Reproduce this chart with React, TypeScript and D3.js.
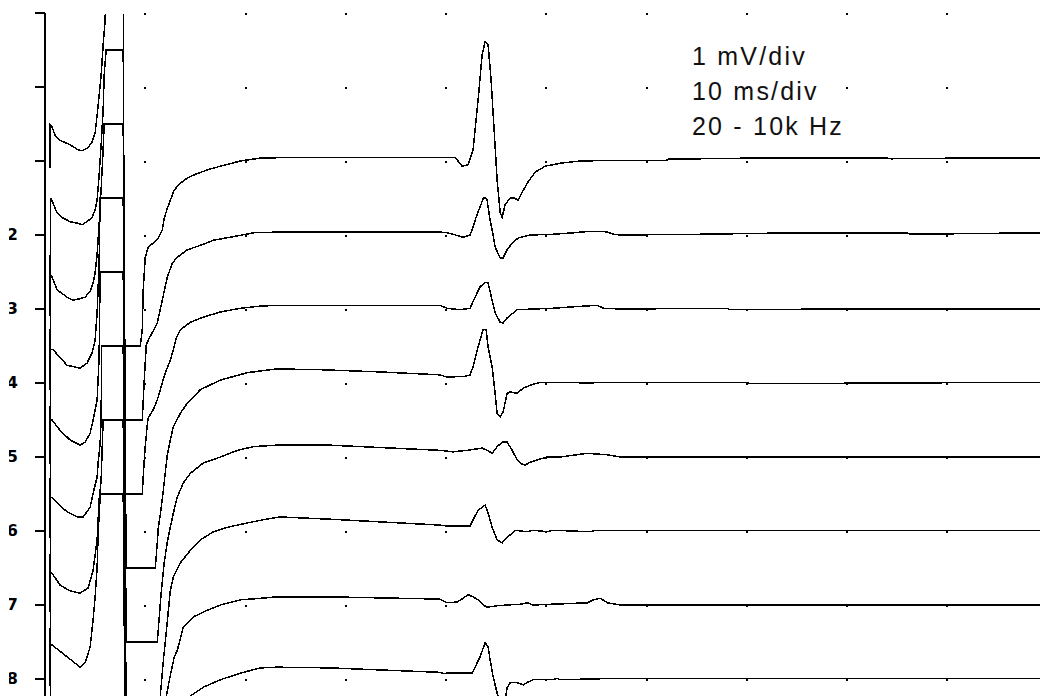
import React from "react";
import * as d3 from "d3";

// [time ms, amplitude mV]
type Pt = [number, number];

const ch1: Pt[] = [
  [0.5, -0.1], [0.5, 0.49], [0.7, 0.46], [1.0, 0.35], [1.5, 0.28], [2.5, 0.22], [3.3, 0.15], [3.7, 0.14],
  [4.3, 0.18], [4.7, 0.26], [5.0, 0.38], [5.2, 0.62], [5.4, 0.89], [5.6, 1.16], [5.8, 1.57], [6.0, 1.9],
  [6.1, 2.5], [7.8, 2.5], [7.9, -2.5], [9.5, -2.5], [9.7, -2.28], [9.8, -1.74], [10.0, -1.3], [10.3, -1.16],
  [10.8, -1.11], [11.3, -1.04], [11.7, -0.93], [11.9, -0.77], [12.2, -0.64], [12.5, -0.53], [12.9, -0.39],
  [13.5, -0.3], [14.2, -0.23], [15.0, -0.18], [16.2, -0.12], [17.5, -0.07], [19.5, 0], [21.5, 0.04],
  [25.4, 0.05], [39.4, 0.05], [40.9, 0.05], [41.6, -0.07], [42.2, -0.05], [42.7, 0.15], [43.2, 0.82],
  [43.6, 1.43], [43.9, 1.61], [44.2, 1.57], [44.5, 1.09], [44.8, 0.42], [45.1, -0.26], [45.4, -0.69],
  [45.6, -0.76], [45.9, -0.59], [46.4, -0.5], [46.8, -0.5], [47.2, -0.53], [47.6, -0.42], [48.2, -0.28],
  [48.9, -0.15], [49.9, -0.07], [51.4, -0.03], [53.4, 0], [57.4, 0.01], [62.0, 0.01], [62.3, 0.03],
  [65.3, 0.03], [71.0, 0.04], [75.3, 0.04], [84.0, 0.04], [84.4, 0.03], [92.0, 0.04], [99.3, 0.04],
];

const ch2: Pt[] = [
  [0.5, -1.1], [0.55, 0.5], [0.8, 0.43], [1.2, 0.3], [1.8, 0.23], [2.5, 0.18], [3.2, 0.16], [3.7, 0.14],
  [4.2, 0.18], [4.7, 0.24], [5.0, 0.34], [5.2, 0.47], [5.4, 0.81], [5.6, 1.22], [5.8, 1.69], [5.9, 2.16],
  [6.1, 2.5], [7.8, 2.5], [8.0, -2.5], [9.7, -2.5], [9.9, -1.96], [10.1, -1.49], [10.3, -1.42], [10.7, -1.32],
  [11.2, -1.19], [11.7, -0.88], [12.2, -0.57], [12.7, -0.38], [13.2, -0.3], [14.2, -0.2], [15.5, -0.14],
  [16.8, -0.07], [18.5, -0.03], [20.8, 0.03], [23.4, 0.04], [39.4, 0.04], [40.1, 0.03], [40.7, 0.01],
  [41.7, -0.03], [42.4, 0], [42.7, 0.11], [43.0, 0.24], [43.4, 0.38], [43.7, 0.49], [43.9, 0.51],
  [44.1, 0.47], [44.4, 0.2], [44.6, 0.07], [44.9, -0.16], [45.4, -0.31], [45.7, -0.31], [46.1, -0.2],
  [46.6, -0.11], [47.2, -0.04], [48.4, 0], [50.7, 0.01], [52.7, 0.03], [54.4, 0.05], [55.4, 0.05],
  [56.1, 0.04], [56.7, 0.01], [57.4, 0], [65.3, 0.01], [75.3, 0.03], [86.0, 0.03], [86.3, 0.01], [99.3, 0.03],
];

const ch3: Pt[] = [
  [0.5, -1.1], [0.55, 0.47], [0.7, 0.43], [1.2, 0.26], [2.2, 0.16], [2.8, 0.12], [3.5, 0.14], [4.0, 0.16],
  [4.5, 0.24], [4.8, 0.35], [5.0, 0.49], [5.2, 0.74], [5.4, 1.15], [5.6, 1.62], [5.8, 2.16], [5.9, 2.5],
  [7.8, 2.5], [8.0, -2.5], [9.7, -2.5], [9.9, -2.04], [10.0, -1.86], [10.2, -1.57], [10.3, -1.47],
  [10.8, -1.36], [11.2, -1.23], [11.7, -1.0], [12.0, -0.86], [12.5, -0.69], [12.8, -0.55], [13.1, -0.39],
  [13.5, -0.28], [14.5, -0.18], [15.8, -0.11], [17.5, -0.04], [19.5, 0.01], [21.5, 0.04], [23.4, 0.05],
  [39.4, 0.05], [40.1, 0.01], [41.4, -0.01], [42.4, 0.01], [42.9, 0.16], [43.4, 0.3], [43.9, 0.36],
  [44.2, 0.35], [44.6, 0.12], [44.9, -0.05], [45.4, -0.18], [45.7, -0.19], [46.1, -0.12], [47.1, -0.01],
  [48.7, 0], [50.7, 0.01], [52.7, 0.03], [55.1, 0.05], [55.7, 0.01], [57.4, 0], [68.0, 0.01], [68.3, -0.01],
  [79.0, 0], [99.3, 0],
];

const ch4: Pt[] = [
  [0.5, -1.1], [0.55, 0.45], [0.8, 0.45], [2.2, 0.24], [3.5, 0.2], [4.2, 0.27], [4.7, 0.41], [5.0, 0.58],
  [5.2, 0.95], [5.4, 1.62], [5.5, 2.5], [7.8, 2.5], [8.1, -2.5], [11.0, -2.5], [11.2, -2.16], [11.3, -1.96],
  [11.5, -1.78], [11.8, -1.45], [12.2, -0.97], [12.5, -0.77], [12.8, -0.59], [13.5, -0.41], [14.2, -0.27],
  [15.5, -0.09], [17.5, 0.04], [20.2, 0.14], [23.1, 0.19], [27.4, 0.18], [33.4, 0.15], [39.4, 0.11],
  [40.1, 0.08], [41.9, 0.09], [42.4, 0.11], [42.7, 0.22], [43.2, 0.49], [43.7, 0.72], [44.0, 0.72],
  [44.2, 0.49], [44.6, 0.22], [44.9, -0.14], [45.1, -0.41], [45.4, -0.46], [45.7, -0.39], [46.1, -0.14],
  [46.4, -0.12], [47.1, -0.14], [47.7, -0.07], [48.4, -0.03], [49.4, 0.01], [53.1, 0.01], [53.4, 0],
  [57.4, 0.01], [70.0, 0.01], [70.3, -0.01], [99.3, 0.01],
];

const ch5: Pt[] = [
  [0.5, -1.1], [0.55, 0.5], [0.7, 0.5], [1.5, 0.36], [2.5, 0.23], [3.5, 0.16], [4.0, 0.2], [4.5, 0.32],
  [4.8, 0.5], [5.0, 0.64], [5.2, 0.77], [5.4, 1.35], [5.5, 2.5], [7.8, 2.5], [8.1, -2.5], [11.2, -2.5],
  [11.4, -2.16], [11.6, -1.82], [11.9, -1.42], [12.2, -1.15], [12.5, -0.95], [12.8, -0.76], [13.2, -0.54],
  [13.8, -0.35], [14.5, -0.22], [15.8, -0.08], [17.5, 0], [19.2, 0.09], [20.8, 0.14], [23.1, 0.16],
  [28.4, 0.16], [39.4, 0.09], [40.7, 0.07], [42.1, 0.09], [43.6, 0.12], [44.1, 0.09], [44.6, 0.05],
  [45.1, 0.14], [45.6, 0.2], [46.1, 0.2], [46.6, 0.09], [47.1, -0.04], [47.5, -0.09], [47.9, -0.11],
  [48.4, -0.07], [49.1, -0.04], [50.1, 0], [51.4, 0], [54.1, 0.05], [56.1, 0.03], [57.4, 0], [99.3, 0],
];

const ch6: Pt[] = [
  [0.5, -1.1], [0.55, 0.45], [0.7, 0.45], [1.2, 0.38], [2.2, 0.26], [3.2, 0.19], [3.8, 0.19], [4.5, 0.32],
  [4.8, 0.51], [5.2, 0.73], [5.3, 0.92], [5.5, 1.19], [5.6, 1.5], [5.65, 2.5], [7.8, 2.5], [8.1, -2.5],
  [11.3, -2.5], [11.5, -2.23], [11.8, -1.76], [12.2, -1.22], [12.5, -0.81], [12.8, -0.62], [13.5, -0.43],
  [14.5, -0.26], [15.5, -0.12], [16.8, -0.01], [18.2, 0.05], [20.2, 0.11], [21.7, 0.15], [23.4, 0.19],
  [28.4, 0.16], [39.4, 0.08], [39.9, 0.07], [42.4, 0.07], [42.7, 0.15], [43.2, 0.28], [43.9, 0.35],
  [44.2, 0.24], [44.6, 0.05], [45.1, -0.12], [45.6, -0.16], [46.1, -0.09], [46.9, 0.01], [48.1, -0.01],
  [48.7, 0.01], [50.1, -0.01], [50.7, 0.01], [54.4, -0.01], [54.9, 0.01], [57.4, 0.01], [99.3, 0.01],
];

const ch7: Pt[] = [
  [0.5, -1.1], [0.55, 0.43], [0.7, 0.43], [1.5, 0.27], [2.5, 0.19], [3.5, 0.16], [4.3, 0.23], [4.8, 0.47],
  [5.2, 0.88], [5.4, 1.42], [5.6, 1.69], [5.8, 2.5], [7.8, 2.5], [8.1, -2.5], [11.5, -2.5], [11.8, -1.89],
  [12.1, -1.23], [12.5, -0.95], [12.9, -0.7], [13.2, -0.61], [13.8, -0.3], [14.8, -0.16], [16.2, -0.07],
  [17.5, 0], [19.5, 0.07], [21.5, 0.09], [23.1, 0.11], [28.4, 0.11], [39.4, 0.08], [40.1, 0.03],
  [41.1, 0.04], [41.7, 0.09], [42.2, 0.14], [42.7, 0.11], [43.2, 0.07], [43.7, 0], [44.1, -0.03],
  [45.1, -0.01], [46.1, 0], [47.4, 0.01], [48.1, 0.03], [48.7, 0], [54.1, 0.03], [54.7, 0.07], [55.4, 0.09],
  [56.1, 0.03], [57.4, 0], [99.3, 0],
];

const ch8: Pt[] = [
  [0.5, -1.1], [0.55, 0.46], [0.7, 0.46], [2.2, 0.3], [3.5, 0.16], [4.0, 0.22], [4.5, 0.43], [4.8, 0.8],
  [5.0, 1.11], [5.2, 1.51], [5.3, 1.97], [5.5, 2.46], [5.55, 2.5], [7.8, 2.5], [8.1, -2.5], [12.0, -2.5],
  [12.7, -1.62], [13.5, -0.81], [14.1, -0.41], [14.5, -0.23], [15.8, -0.11], [17.5, -0.01], [19.5, 0.08],
  [21.5, 0.15], [23.1, 0.16], [28.4, 0.15], [39.4, 0.09], [39.9, 0.07], [40.1, 0.08], [42.6, 0.08],
  [42.9, 0.16], [43.4, 0.3], [43.9, 0.49], [44.2, 0.43], [44.4, 0.26], [44.7, 0.03], [45.1, -0.19],
  [45.4, -0.3], [45.7, -0.32], [45.9, -0.28], [46.1, -0.12], [46.4, -0.05], [47.1, -0.05], [47.7, -0.08],
  [48.2, -0.04], [48.7, -0.01], [50.7, -0.01], [51.1, 0.01], [51.4, -0.01], [57.4, 0.01], [99.3, 0.01],
];

const channels = [ch1, ch2, ch3, ch4, ch5, ch6, ch7, ch8];
const channelLabels = ["2", "3", "4", "5", "6", "7", "8"];
const gridMs = [10, 20, 30, 40, 50, 60, 70, 80, 90];
const gridDivs = [0, 1, 2, 3, 4, 5, 6, 7, 8, 9];
const infoLines = ["1 mV/div", "10 ms/div", "20 - 10k Hz"];

const W = 1040;
const H = 696;

export default function App() {
  const x = d3.scaleLinear().domain([0, 100]).range([45, 1047.5]);
  const yDiv = d3.scaleLinear().domain([0, 9]).range([13, 679]);

  const paths = channels.map((pts, i) =>
    d3
      .line<Pt>()
      .x((d) => x(d[0]))
      .y((d) => yDiv(i + 2 - d[1]))(pts)
  );

  return (
    <div style={{ position: "absolute", left: 0, top: 0 }}>
      <svg width={W} height={H} style={{ display: "block", background: "#fff" }}>
        <defs>
          <clipPath id="plotClip">
            <rect x={46} y={14} width={W - 46} height={H - 14} />
          </clipPath>
          <clipPath id="labelClip">
            <rect x={9} y={0} width={30} height={H} />
          </clipPath>
        </defs>

        {/* grid dots */}
        <g fill="#000">
          {gridMs.map((t) =>
            gridDivs.map((d) => (
              <rect key={`${t}-${d}`} x={Math.round(x(t)) - 1} y={Math.round(yDiv(d))} width={2} height={2} />
            ))
          )}
        </g>

        {/* left axis */}
        <g stroke="#000" strokeWidth={1.5} shapeRendering="crispEdges">
          <line x1={45} x2={45} y1={yDiv(0)} y2={H} />
          {gridDivs.map((d) => (
            <line key={d} x1={35} x2={45} y1={yDiv(d)} y2={yDiv(d)} />
          ))}
        </g>
        <g clipPath="url(#labelClip)" fontFamily="DejaVu Sans, sans-serif" fontWeight="bold" fontSize={16} fill="#000">
          {channelLabels.map((l, i) => (
            <text key={l} x={18} y={yDiv(i + 3) + 5} textAnchor="end">
              {l}
            </text>
          ))}
        </g>

        {/* traces */}
        <g
          clipPath="url(#plotClip)"
          fill="none"
          stroke="#000"
          strokeWidth={1.5}
          strokeLinejoin="miter"
          shapeRendering="crispEdges"
        >
          {paths.map((p, i) => (
            <path key={i} d={p || ""} />
          ))}
        </g>

        {/* settings */}
        <g fontFamily="Liberation Sans, Arial, sans-serif" fontSize={25} fill="#111" letterSpacing={2.2}>
          {infoLines.map((s, i) => (
            <text key={s} x={692} y={65 + i * 35}>
              {s}
            </text>
          ))}
        </g>
      </svg>
    </div>
  );
}
